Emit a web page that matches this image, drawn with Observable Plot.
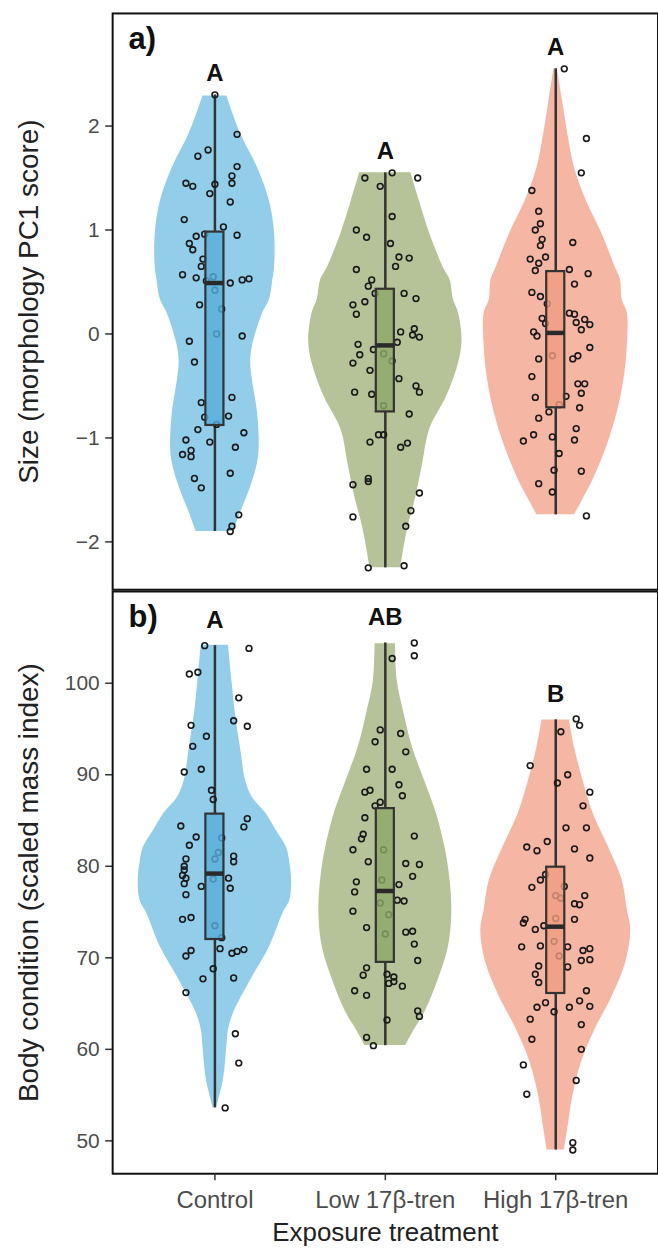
<!DOCTYPE html>
<html><head><meta charset="utf-8">
<script src="https://cdn.jsdelivr.net/npm/d3@7"></script>
<script src="https://cdn.jsdelivr.net/npm/@observablehq/plot@0.6"></script>
<style>
html,body{margin:0;padding:0;background:#fff;overflow:hidden;}
#wrap{position:relative;width:658px;height:1256px;overflow:hidden;}
#wrap svg{position:absolute;left:0;overflow:visible;}
</style></head><body><div id="wrap"></div>
<script>
// ---------------- data ----------------
const categories = ["Control", "Low 17β-tren", "High 17β-tren"];
const violinColors = ["#92cde9", "#b6c398", "#f5b7a3"];
const boxColors = ["#55aedb", "#8fa868", "#f09b7e"];

// panel a: size (morphology PC1 score); points as [jitter, value]
const sizeControlPts = [[0.00,2.30],[0.13,1.92],[-0.04,1.77],[-0.10,1.71],[0.13,1.61],[0.10,1.52],[0.10,1.45],[-0.17,1.45],[-0.13,1.42],[0.00,1.44],[-0.03,1.35],[0.09,1.27],[-0.18,1.10],[0.05,1.03],[-0.06,0.96],[0.13,0.95],[-0.11,0.94],[-0.15,0.87],[-0.13,0.81],[-0.07,0.72],[-0.08,0.65],[-0.19,0.57],[-0.11,0.54],[-0.05,0.51],[0.09,0.49],[0.16,0.52],[0.20,0.53],[-0.01,0.55],[0.00,0.42],[-0.09,0.28],[0.04,0.24],[0.01,0.00],[-0.15,-0.07],[0.16,-0.02],[-0.12,-0.27],[0.10,-0.61],[-0.08,-0.66],[-0.06,-0.80],[0.08,-0.79],[0.01,-0.87],[-0.10,-0.92],[0.17,-0.95],[-0.17,-1.02],[-0.03,-1.04],[0.12,-1.09],[-0.14,-1.12],[-0.19,-1.16],[-0.14,-1.18],[0.09,-1.34],[-0.12,-1.39],[-0.08,-1.48],[0.14,-1.74],[0.10,-1.85],[0.09,-1.90]];
const sizeLowPts = [[-0.12,1.50],[0.04,1.55],[0.19,1.50],[-0.03,1.42],[0.04,1.13],[-0.17,1.00],[-0.11,0.93],[0.03,0.87],[-0.17,0.62],[0.08,0.74],[0.14,0.73],[0.06,0.65],[-0.08,0.52],[-0.10,0.46],[0.11,0.39],[0.18,0.34],[-0.06,0.39],[-0.19,0.28],[-0.12,0.31],[-0.17,0.19],[0.09,0.02],[0.17,0.05],[0.16,-0.01],[0.20,-0.03],[0.07,-0.08],[-0.16,-0.10],[-0.07,-0.15],[-0.01,-0.19],[0.04,-0.26],[-0.15,-0.20],[-0.19,-0.28],[-0.09,-0.35],[0.08,-0.43],[-0.18,-0.56],[-0.08,-0.58],[0.18,-0.50],[0.20,-0.56],[-0.01,-0.69],[0.14,-0.77],[-0.04,-0.97],[-0.01,-0.97],[-0.09,-1.04],[0.09,-1.09],[0.13,-1.05],[-0.19,-1.45],[-0.10,-1.39],[-0.10,-1.42],[0.20,-1.53],[0.15,-1.70],[-0.19,-1.76],[0.12,-1.85],[-0.10,-2.25],[0.11,-2.23]];
const sizeHighPts = [[0.05,2.55],[0.18,1.88],[0.15,1.55],[-0.14,1.38],[-0.10,1.18],[-0.09,1.06],[-0.12,1.00],[-0.08,0.91],[-0.09,0.85],[0.10,0.88],[-0.06,0.74],[-0.15,0.72],[-0.10,0.68],[-0.12,0.61],[0.08,0.62],[0.19,0.58],[0.11,0.48],[-0.14,0.40],[-0.09,0.36],[-0.05,0.29],[0.08,0.20],[0.11,0.19],[-0.08,0.15],[-0.06,0.10],[0.17,0.14],[0.20,0.09],[0.12,0.11],[0.15,0.04],[-0.13,0.02],[-0.11,-0.02],[0.20,-0.13],[-0.02,-0.21],[-0.10,-0.24],[0.10,-0.24],[0.13,-0.21],[-0.14,-0.41],[0.13,-0.48],[0.17,-0.48],[0.15,-0.57],[-0.12,-0.61],[0.06,-0.60],[0.02,-0.68],[-0.04,-0.75],[0.14,-0.71],[-0.10,-0.81],[0.12,-0.91],[-0.13,-0.97],[-0.02,-0.99],[-0.19,-1.03],[0.11,-1.02],[0.02,-1.15],[-0.01,-1.31],[0.15,-1.32],[-0.10,-1.44],[-0.02,-1.52],[0.18,-1.75]];

// violin outlines as [value, half-width in category units]
const sizeControlViolin = [[2.29,0.07],[1.93,0.15],[1.60,0.25],[1.28,0.32],[0.97,0.35],[0.64,0.35],[0.52,0.34],[0.33,0.32],[0.20,0.28],[-0.12,0.22],[-0.28,0.21],[-0.44,0.22],[-0.76,0.25],[-1.08,0.26],[-1.24,0.25],[-1.47,0.21],[-1.72,0.15],[-1.90,0.11]];
const sizeLowViolin = [[1.55,0.15],[1.28,0.20],[0.97,0.26],[0.64,0.34],[0.52,0.38],[0.33,0.40],[0.20,0.43],[-0.06,0.45],[-0.28,0.43],[-0.60,0.36],[-0.92,0.26],[-1.24,0.22],[-1.56,0.18],[-1.88,0.13],[-2.25,0.09]];
const sizeHighViolin = [[2.55,0.01],[2.24,0.04],[1.93,0.07],[1.60,0.11],[1.28,0.18],[0.97,0.27],[0.64,0.35],[0.52,0.38],[0.33,0.39],[0.20,0.42],[-0.12,0.42],[-0.44,0.40],[-0.76,0.36],[-1.08,0.30],[-1.40,0.22],[-1.59,0.16],[-1.74,0.11]];

// box stats [min, q1, median, q3, max]
const sizeBox = [[-1.90,-0.88,0.49,0.98,2.30],[-2.25,-0.75,-0.11,0.43,1.55],[-1.74,-0.71,0.01,0.60,2.55]];
const sizeLetters = ["A", "A", "A"];
const sizeTicks = [-2, -1, 0, 1, 2];

// panel b: body condition (scaled mass index)
const bodyControlPts = [[-0.06,104.1],[0.20,103.8],[-0.15,101.0],[-0.10,101.2],[0.14,98.4],[-0.14,95.4],[0.11,95.9],[0.19,95.3],[-0.05,94.2],[-0.13,93.1],[-0.08,90.6],[-0.18,90.3],[-0.02,88.3],[-0.01,87.3],[-0.20,84.4],[0.19,85.2],[0.17,84.3],[-0.11,83.2],[0.04,83.1],[-0.15,82.3],[0.02,81.5],[0.00,80.8],[0.11,81.1],[0.11,80.5],[-0.17,80.8],[-0.18,80.0],[-0.18,79.6],[-0.19,79.0],[-0.17,78.7],[0.08,78.7],[-0.01,78.6],[-0.18,78.1],[-0.08,77.8],[0.09,77.6],[-0.17,76.9],[-0.19,74.2],[-0.14,74.4],[0.00,73.5],[0.04,72.2],[0.03,71.0],[-0.17,70.2],[-0.14,70.8],[0.10,70.5],[0.13,70.7],[0.17,70.9],[-0.01,68.8],[-0.07,67.7],[0.11,67.8],[-0.17,66.2],[0.12,61.7],[0.14,58.5],[0.06,53.6]];
const bodyLowPts = [[0.17,104.4],[0.17,103.0],[0.04,102.7],[-0.03,94.9],[0.09,94.5],[-0.06,93.6],[0.12,92.5],[-0.11,90.6],[0.04,90.6],[0.08,88.9],[-0.12,88.1],[-0.09,88.3],[0.10,87.7],[-0.03,87.0],[-0.06,86.6],[-0.12,85.3],[-0.13,83.5],[-0.14,83.0],[0.17,83.3],[-0.19,81.8],[-0.01,81.8],[-0.10,80.5],[0.12,80.3],[0.20,80.2],[0.16,78.9],[-0.02,78.5],[-0.17,78.3],[0.08,78.0],[-0.18,77.2],[0.07,76.3],[0.11,76.2],[-0.03,76.0],[-0.19,75.1],[0.02,74.7],[-0.11,73.3],[0.00,72.6],[0.12,72.8],[0.16,72.9],[0.17,71.5],[0.19,69.7],[-0.11,68.9],[-0.13,68.1],[0.01,68.2],[0.05,67.9],[0.05,67.4],[0.02,67.2],[0.10,66.9],[-0.18,66.4],[-0.11,65.9],[0.19,64.2],[0.20,63.6],[0.01,63.2],[-0.11,61.3],[-0.07,60.4]];
const bodyHighPts = [[0.12,96.1],[0.14,95.4],[0.03,94.7],[-0.15,91.0],[0.01,89.1],[0.07,90.0],[0.20,88.1],[0.16,86.6],[0.06,84.2],[0.18,84.2],[-0.05,82.7],[-0.17,82.1],[-0.11,81.7],[0.11,81.9],[0.20,80.9],[-0.09,78.5],[-0.06,79.1],[-0.14,77.7],[0.05,77.8],[0.00,76.8],[0.03,76.5],[0.17,76.8],[0.11,75.9],[0.14,75.8],[0.00,74.3],[0.11,74.2],[-0.19,73.8],[-0.18,74.2],[-0.07,73.5],[-0.12,73.1],[-0.01,71.8],[-0.20,71.2],[-0.09,71.3],[0.07,71.2],[0.02,70.2],[0.16,70.8],[0.20,71.0],[0.15,69.7],[0.20,69.8],[-0.10,69.1],[0.07,69.0],[-0.12,68.2],[-0.10,67.3],[0.18,66.4],[-0.11,64.6],[-0.06,65.1],[0.08,64.6],[0.14,65.3],[0.20,64.7],[-0.01,64.1],[-0.15,63.3],[0.15,62.7],[-0.14,61.1],[0.15,60.0],[-0.19,58.3],[0.12,56.6],[-0.17,55.1],[0.10,49.8],[0.10,49.0]];

const bodyControlViolin = [[104.15,0.08],[100.26,0.10],[96.67,0.12],[92.96,0.15],[89.37,0.18],[87.52,0.22],[85.77,0.30],[83.92,0.36],[82.07,0.42],[80.33,0.44],[78.47,0.45],[76.30,0.44],[74.88,0.40],[71.18,0.32],[67.58,0.21],[63.99,0.11],[62.14,0.08],[60.28,0.07],[56.69,0.05],[53.64,0.01]];
const bodyLowViolin = [[104.32,0.06],[100.26,0.07],[96.67,0.11],[92.96,0.16],[89.37,0.23],[85.77,0.30],[82.07,0.35],[78.47,0.38],[74.88,0.39],[71.18,0.37],[67.58,0.31],[63.99,0.23],[62.14,0.17],[60.42,0.12]];
const bodyHighViolin = [[95.98,0.08],[93.0,0.11],[89.37,0.16],[85.77,0.22],[82.07,0.31],[78.47,0.39],[75.21,0.42],[73.03,0.44],[69.43,0.41],[65.73,0.33],[62.14,0.23],[58.54,0.15],[54.84,0.10],[51.25,0.07],[48.99,0.05]];

const bodyBox = [[53.6,72.0,79.2,85.7,104.1],[60.4,69.5,77.3,86.3,104.4],[49.0,66.1,73.4,79.9,96.0]];
const bodyLetters = ["A", "AB", "B"];
const bodyTicks = [50, 60, 70, 80, 90, 100];

// ---------------- drawing ----------------
const FONT = "'Liberation Sans', Arial, Helvetica, sans-serif";
const BOXW = 0.053;
const minus = d => (d < 0 ? "\u2212" + Math.abs(d) : String(d));

function panel({pts, violins, box, letters, letterOffset, yDomain, ticks, yLabel, tag, height, marginTop, marginBottom, showX}) {
  const points = pts.flatMap((g, gi) => g.map(([j, v]) => ({x: gi + 1 + j, y: v})));
  const vrows = violins.flatMap((g, gi) => g.map(([v, w]) => ({gi, y: v, x1: gi + 1 - w, x2: gi + 1 + w, c: violinColors[gi]})));
  const brows = box.map(([mn, q1, md, q3, mx], gi) => ({gi, c: gi + 1, mn, q1, md, q3, mx, fill: boxColors[gi], letter: letters[gi]}));
  const marks = [
    Plot.areaX(vrows, {y: "y", x1: "x1", x2: "x2", z: "gi", fill: "c", curve: "catmull-rom"}),
    Plot.ruleX(brows, {x: "c", y1: "q3", y2: "mx", stroke: "#333", strokeWidth: 2.5}),
    Plot.ruleX(brows, {x: "c", y1: "mn", y2: "q1", stroke: "#333", strokeWidth: 2.5}),
    Plot.dot(points, {x: "x", y: "y", r: 2.9, stroke: "#1a1a1a", strokeWidth: 1.6, fill: "none"}),
    Plot.rect(brows, {x1: d => d.c - BOXW, x2: d => d.c + BOXW, y1: "q1", y2: "q3", fill: "fill", fillOpacity: 0.8, stroke: "#333", strokeWidth: 2.2}),
    Plot.ruleY(brows, {y: "md", x1: d => d.c - BOXW, x2: d => d.c + BOXW, stroke: "#2a2a2a", strokeWidth: 4.5}),
    Plot.text(brows, {x: "c", y: d => d.mx + letterOffset, text: "letter", fontSize: 24, fontWeight: "bold", fill: "#111"}),
    Plot.text([tag], {frameAnchor: "top-left", dx: 16, dy: 14, textAnchor: "start", lineAnchor: "top", fontSize: 31, fontWeight: "bold", fill: "#111"}),
    Plot.axisY({ticks, tickFormat: minus, tickSize: 7, tickPadding: 6, fontSize: 21, fill: "#4d4d4d", stroke: "#333", strokeWidth: 1.5, label: null}),
    Plot.text([yLabel], {frameAnchor: "left", textAnchor: "middle", lineAnchor: "middle", rotate: -90, dx: -84, fontSize: 28, fill: "#222"}),
    Plot.frame({stroke: "#111", strokeWidth: 2})
  ];
  if (showX) {
    marks.push(Plot.axisX({ticks: [1, 2, 3], tickFormat: i => categories[i - 1], tickSize: 7, tickPadding: 10, fontSize: 24, fill: "#4d4d4d", stroke: "#333", strokeWidth: 1.5, label: null}));
    marks.push(Plot.text(["Exposure treatment"], {frameAnchor: "bottom", dy: 67, fontSize: 26, fill: "#222"}));
  }
  return Plot.plot({
    width: 660,
    height,
    marginLeft: 112.5,
    marginRight: 0.5,
    marginTop,
    marginBottom,
    style: {fontFamily: FONT, background: "transparent", overflow: "visible", color: "#222"},
    x: {domain: [0.4, 3.6], axis: showX ? undefined : null},
    y: {domain: yDomain},
    marks
  });
}

const wrap = document.getElementById("wrap");
const a = panel({
  pts: [sizeControlPts, sizeLowPts, sizeHighPts],
  violins: [sizeControlViolin, sizeLowViolin, sizeHighViolin],
  box: sizeBox, letters: sizeLetters, letterOffset: 0.21,
  yDomain: [-2.46, 3.083], ticks: sizeTicks, yLabel: "Size (morphology PC1 score)", tag: "a)",
  height: 592, marginTop: 13, marginBottom: 1, showX: false
});
a.style.top = "0px";
wrap.appendChild(a);

const b = panel({
  pts: [bodyControlPts, bodyLowPts, bodyHighPts],
  violins: [bodyControlViolin, bodyLowViolin, bodyHighViolin],
  box: bodyBox, letters: bodyLetters, letterOffset: 2.8,
  yDomain: [46.41, 110.02], ticks: bodyTicks, yLabel: "Body condition (scaled mass index)", tag: "b)",
  height: 665, marginTop: 0, marginBottom: 81, showX: true
});
b.style.top = "591px";
wrap.appendChild(b);
</script></body></html>
